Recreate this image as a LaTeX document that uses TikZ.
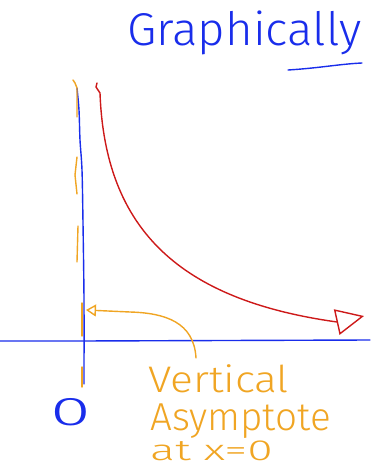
\documentclass[tikz,border=0pt]{standalone}
\usepackage{fontspec}
\newfontfamily\hand{Fira Sans}[UprightFont=* Light]
\usetikzlibrary{arrows.meta}
\definecolor{penblue}{RGB}{25,45,235}
\definecolor{penorange}{RGB}{240,165,35}
\definecolor{penred}{RGB}{205,25,25}
\begin{document}
\begin{tikzpicture}[x=1pt,y=-1pt,line cap=round,line join=round,
  pen/.style={line width=1.4pt},
  handtext/.style={inner sep=0pt,anchor=base west}]
\useasboundingbox (0,0) rectangle (370,469);
% title
\node[handtext,text=penblue,font=\hand\fontsize{46}{46}\selectfont] (title) at (127,45) {\scalebox{1.03}[1]{Graphically}};
\draw[penblue,pen] (288,70) .. controls (320,68) and (340,64) .. (362,63);
% axes
\draw[penblue,pen] (0,341) -- (80,341) -- (370,340);
\draw[penblue,pen] plot[smooth] coordinates {(77,88) (79,110) (80,140) (82,170) (83,223) (84,300) (84,384)};
% dashed asymptote
\draw[penorange,pen] (73,80) -- (75,83) -- (77,88) -- (77,117);
\draw[penorange,pen] (77,157) -- (75,175) -- (77,194);
\draw[penorange,pen] (78,226) -- (77,262);
\draw[penorange,pen] (82,303) -- (82,336);
\draw[penorange,pen] (82,367) -- (82,387);
% red curve
\draw[penred,pen,-{Triangle[open,length=28pt,width=26pt,line width=1.4pt]}] (97,83) -- (96,87) -- (100,93) .. controls (105,230) and (180,300) .. (337,322) -- (364,316);
% zero label
\node[text=penblue,font=\hand\fontsize{40}{40}\selectfont,inner sep=0pt] (zero) at (71,412) {\scalebox{1.85}[1]{0}};
% annotation
\node[handtext,text=penorange,font=\hand\fontsize{37}{37}\selectfont] (l1) at (148,392) {\scalebox{1.15}[1]{Vertical}};
\node[handtext,text=penorange,font=\hand\fontsize{39}{39}\selectfont] (l2) at (150,430) {\scalebox{0.99}[1]{Asymptote}};
\node[handtext,text=penorange,font=\hand\fontsize{29}{29}\selectfont] (l3) at (150,460) {\scalebox{1.6}[1]{at x=0}};
\coordinate (vtip) at (86,310);
\coordinate (lstart) at (196,358);
\draw[penorange,pen,-{Triangle[open,length=10pt,width=12pt,line width=1.4pt]}] (lstart) .. controls (194,322) and (165,313) .. (130,312) -- (vtip);
\end{tikzpicture}
\end{document}
